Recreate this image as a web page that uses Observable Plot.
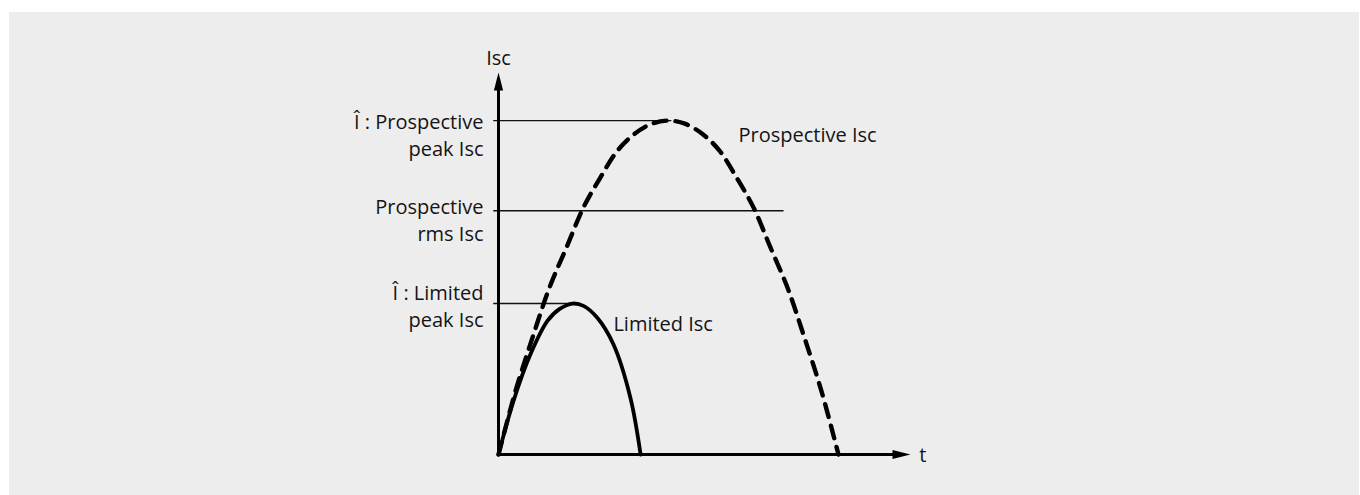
<!DOCTYPE html>
<html>
<head>
<meta charset="utf-8">
<script src="https://cdn.jsdelivr.net/npm/d3@7"></script>
<script src="https://cdn.jsdelivr.net/npm/@observablehq/plot@0.6"></script>
<style>
  html, body { margin: 0; padding: 0; background: #ffffff; width: 1360px; height: 495px; overflow: hidden; }
  #panel { position: absolute; left: 9px; top: 12px; width: 1350px; height: 483px; background: #ededed; }
  #chart { position: absolute; left: 0; top: 0; }
</style>
</head>
<body>
<div id="panel"></div>
<div id="chart"></div>
<script>
// Prospective short-circuit current (dashed), time in arbitrary units, current in % of prospective peak
const tProspective = [0, 0.5, 1, 1.5, 2, 2.5, 3, 3.5, 4, 4.5, 5, 5.5, 6, 6.5, 7, 7.5, 8, 8.5, 9, 9.5, 10];
const iProspective = [0, 19, 35, 50, 62, 74, 83, 91, 96, 99, 100, 99, 96, 91, 83, 74, 62, 50, 35, 19, 0];

// Limited short-circuit current (solid)
const tLimited = [0, 0.44, 0.94, 1.44, 1.8, 2.18, 2.5, 2.9, 3.38, 3.88, 4.18];
const iLimited = [0, 16, 30, 40, 43.6, 45.2, 44.5, 41, 33, 17, 0];

// Reference levels
const levelNames = ["prospectivePeak", "prospectiveRms", "limitedPeak"];
const levelValues = [100, 73, 45.2];
const levelEnds = [5.1, 8.4, 2.2];

// Texts
const yAxisLabel = "Isc";
const xAxisLabel = "t";
const labelProspectivePeak = "\u00CE : Prospective\npeak Isc";
const labelProspectiveRms = "Prospective\nrms Isc";
const labelLimitedPeak = "\u00CE : Limited\npeak Isc";
const labelProspectiveCurve = "Prospective Isc";
const labelLimitedCurve = "Limited Isc";

// Axis extents
const xMax = 12.12;
const yMax = 114.4;

const prospective = tProspective.map((t, i) => ({t, i: iProspective[i]}));
const limited = tLimited.map((t, i) => ({t, i: iLimited[i]}));
const levels = levelNames.map((name, k) => ({name, value: levelValues[k], end: levelEnds[k]}));

// narrow filled arrowhead, tip at origin pointing up
const arrowHead = {
  draw(context) {
    context.moveTo(0, 0);
    context.lineTo(4.6, 18);
    context.lineTo(-4.6, 18);
    context.closePath();
  }
};

const font = "'Open Sans', sans-serif";
const fs = 20;
const ink = "#141414";

const chart = Plot.plot({
  width: 1360,
  height: 495,
  marginLeft: 498,
  marginRight: 450,
  marginTop: 72,
  marginBottom: 41,
  x: {domain: [0, xMax], axis: null},
  y: {domain: [0, yMax], axis: null},
  style: {background: "transparent", fontFamily: font, overflow: "visible", color: ink},
  marks: [
    // reference lines
    Plot.ruleY(levels, {y: "value", x1: -0.14, x2: "end", stroke: "#111", strokeWidth: 1.4}),
    // axes
    Plot.ruleX([0], {y1: -0.3, y2: 110, stroke: "#000", strokeWidth: 3}),
    Plot.ruleY([0], {x1: 0, x2: 11.7, stroke: "#000", strokeWidth: 3}),
    Plot.dot([0], {x: 0, y: yMax, symbol: arrowHead, fill: "#000", stroke: "none", r: 5}),
    Plot.dot([0], {x: xMax, y: 0, symbol: arrowHead, fill: "#000", stroke: "none", r: 5, rotate: 90}),
    // curves
    Plot.line(prospective, {x: "t", y: "i", curve: "catmull-rom", stroke: "#000", strokeWidth: 4.4, strokeDasharray: "13,9"}),
    Plot.line(limited, {x: "t", y: "i", curve: "catmull-rom", stroke: "#000", strokeWidth: 3.8}),
    // axis labels
    Plot.text([yAxisLabel], {x: 0, y: 121, text: d => d, textAnchor: "middle", lineAnchor: "top", fontSize: fs, fill: ink}),
    Plot.text([xAxisLabel], {x: 12.38, y: 1.86, text: d => d, textAnchor: "start", lineAnchor: "top", fontSize: fs, fill: ink}),
    // level labels
    Plot.text([labelProspectivePeak], {x: 0, y: levelValues[0], text: d => d, dx: -15, dy: -11, textAnchor: "end", lineAnchor: "top", lineHeight: 1.35, fontSize: fs, fill: ink}),
    Plot.text([labelProspectiveRms], {x: 0, y: levelValues[1], text: d => d, dx: -15, dy: -16, textAnchor: "end", lineAnchor: "top", lineHeight: 1.35, fontSize: fs, fill: ink}),
    Plot.text([labelLimitedPeak], {x: 0, y: levelValues[2], text: d => d, dx: -15, dy: -23, textAnchor: "end", lineAnchor: "top", lineHeight: 1.35, fontSize: fs, fill: ink}),
    // curve labels
    Plot.text([labelProspectiveCurve], {x: 7.06, y: 97.75, text: d => d, textAnchor: "start", lineAnchor: "top", fontSize: fs, fill: ink}),
    Plot.text([labelLimitedCurve], {x: 3.38, y: 41.2, text: d => d, textAnchor: "start", lineAnchor: "top", fontSize: fs, fill: ink})
  ]
});
document.getElementById("chart").appendChild(chart);
</script>
</body>
</html>
